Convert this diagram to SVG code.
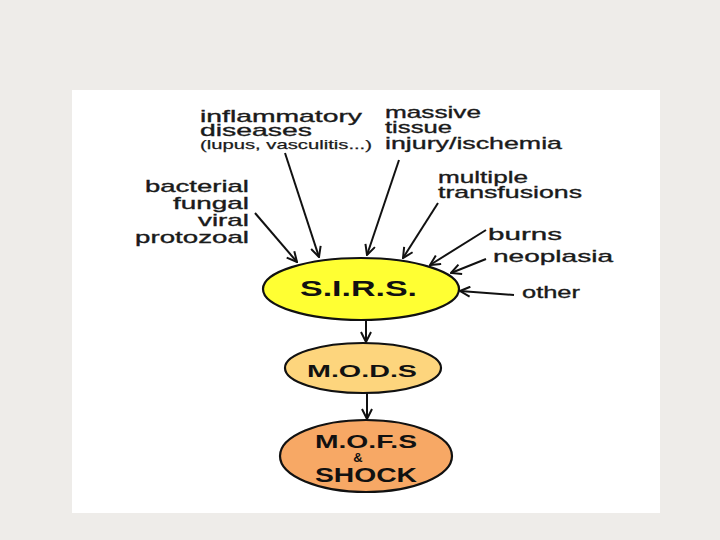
<svg xmlns="http://www.w3.org/2000/svg" width="720" height="540" viewBox="0 0 720 540">
<style>
.lbl{font-family:"Liberation Sans",Arial,sans-serif;font-size:17px;fill:#1a1a1a;stroke:#1a1a1a;stroke-width:0.35}
.sm{font-size:13px;stroke-width:0.25}
.nd{font-family:"Liberation Sans",Arial,sans-serif;font-weight:bold;fill:#111}
.ell{stroke:#111;stroke-width:2.2}
.con{stroke:#111;stroke-width:2;fill:none;marker-end:url(#ah)}
</style>
<defs>
<marker id="ah" viewBox="0 0 12 12" refX="11" refY="6" markerWidth="12" markerHeight="12" markerUnits="userSpaceOnUse" orient="auto">
<path d="M1,1 L11,6 L1,11" fill="none" stroke="#111" stroke-width="2"/>
</marker>
</defs>
<rect x="0" y="0" width="720" height="540" fill="#eeece9"/>
<rect x="72" y="90" width="588" height="423" fill="#ffffff"/>

<g id="labels">
<g id="inflammatory">
<text class="lbl" x="200" y="122" textLength="162" lengthAdjust="spacingAndGlyphs">inflammatory</text>
<text class="lbl" x="200" y="136" textLength="112" lengthAdjust="spacingAndGlyphs">diseases</text>
<text class="lbl sm" x="200" y="149" textLength="172" lengthAdjust="spacingAndGlyphs">(lupus, vasculitis...)</text>
</g>
<g id="massive">
<text class="lbl" x="385" y="118" textLength="96" lengthAdjust="spacingAndGlyphs">massive</text>
<text class="lbl" x="385" y="133" textLength="67" lengthAdjust="spacingAndGlyphs">tissue</text>
<text class="lbl" x="385" y="149" textLength="177" lengthAdjust="spacingAndGlyphs">injury/ischemia</text>
</g>
<g id="multiple">
<text class="lbl" x="438" y="183" textLength="90" lengthAdjust="spacingAndGlyphs">multiple</text>
<text class="lbl" x="438" y="198" textLength="144" lengthAdjust="spacingAndGlyphs">transfusions</text>
</g>
<g id="infections">
<text class="lbl" x="145" y="192" textLength="104" lengthAdjust="spacingAndGlyphs">bacterial</text>
<text class="lbl" x="173" y="209" textLength="76" lengthAdjust="spacingAndGlyphs">fungal</text>
<text class="lbl" x="198" y="226" textLength="51" lengthAdjust="spacingAndGlyphs">viral</text>
<text class="lbl" x="135" y="243" textLength="114" lengthAdjust="spacingAndGlyphs">protozoal</text>
</g>
<g id="burns"><text class="lbl" x="488" y="240" textLength="74" lengthAdjust="spacingAndGlyphs">burns</text></g>
<g id="neoplasia"><text class="lbl" x="493" y="262" textLength="120" lengthAdjust="spacingAndGlyphs">neoplasia</text></g>
<g id="other"><text class="lbl" x="522" y="298" textLength="58" lengthAdjust="spacingAndGlyphs">other</text></g>
</g>

<g id="connectors">
<line class="con" x1="255" y1="213" x2="297" y2="262"/>
<line class="con" x1="285" y1="153" x2="319" y2="257"/>
<line class="con" x1="399" y1="160" x2="367" y2="255"/>
<line class="con" x1="438" y1="203" x2="403" y2="258"/>
<line class="con" x1="486" y1="230" x2="430" y2="265"/>
<line class="con" x1="486" y1="259" x2="451" y2="273"/>
<line class="con" x1="514" y1="295" x2="460" y2="291"/>
<line class="con" x1="366" y1="321" x2="366" y2="342"/>
<line class="con" x1="367" y1="393" x2="367" y2="419"/>
</g>

<g id="sirs">
<ellipse class="ell" cx="361" cy="289" rx="98" ry="31" fill="#ffff33"/>
<text class="nd" x="300" y="296" font-size="22" textLength="117" lengthAdjust="spacingAndGlyphs">S.I.R.S.</text>
</g>
<g id="mods">
<ellipse class="ell" cx="363" cy="368" rx="78" ry="25" fill="#fdd57d"/>
<text class="nd" x="307" y="377" font-size="17" textLength="110" lengthAdjust="spacingAndGlyphs">M.O.D.S</text>
</g>
<g id="mofs">
<ellipse class="ell" cx="366" cy="456" rx="86" ry="36" fill="#f7a865"/>
<text class="nd" x="315" y="448" font-size="18" textLength="102" lengthAdjust="spacingAndGlyphs">M.O.F.S</text>
<text class="nd" x="358" y="462" font-size="13" text-anchor="middle">&amp;</text>
<text class="nd" x="315" y="482" font-size="20" textLength="102" lengthAdjust="spacingAndGlyphs">SHOCK</text>
</g>
</svg>
